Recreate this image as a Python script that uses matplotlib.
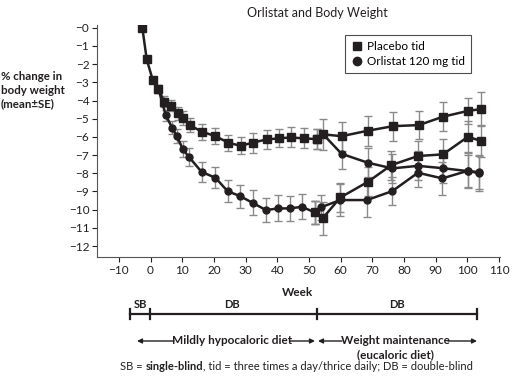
import matplotlib.pyplot as plt
from matplotlib.lines import Line2D
from matplotlib.patches import FancyArrowPatch

plt.rcParams['font.family'] = ['Lato', 'DejaVu Sans']

# year 1 (weeks -3 .. 52)
wk_plac1 = [-2.6, -1.2, 0.7, 2.5, 4.3, 6.4, 8.7, 10.3, 12.3, 16.3, 20.5, 24.6, 28.4, 32.2, 36.6, 40.6, 44.2, 48.3, 52.4]
val_plac1 = [0, -1.74, -2.88, -3.37, -4.07, -4.29, -4.71, -4.94, -5.35, -5.72, -5.96, -6.32, -6.49, -6.32, -6.14, -6.08, -6.03, -6.08, -6.12]
se_plac1 = [0, 0.1, 0.15, 0.2, 0.3, 0.3, 0.35, 0.38, 0.4, 0.45, 0.45, 0.43, 0.46, 0.55, 0.52, 0.5, 0.55, 0.55, 0.55]

wk_orl1 = [2.5, 4.8, 6.8, 8.3, 10.2, 12.1, 16.1, 20.5, 24.3, 28.2, 32.2, 36.4, 40.3, 44.0, 47.8, 51.8]
val_orl1 = [-3.37, -4.8, -5.5, -5.96, -6.68, -7.1, -7.92, -8.25, -8.98, -9.25, -9.62, -10.02, -9.93, -9.93, -9.84, -10.15]
se_orl1 = [0.2, 0.3, 0.35, 0.4, 0.45, 0.5, 0.55, 0.58, 0.6, 0.63, 0.69, 0.64, 0.71, 0.67, 0.69, 0.62]

# year 2 (re-randomised at week 52)
wk_pp = [52.4, 54.5, 60.3, 68.6, 76.5, 84.7, 92.3, 100.2, 104.4]
val_pp = [-6.12, -5.86, -5.96, -5.66, -5.41, -5.35, -4.89, -4.57, -4.47]
se_pp = [0.55, 0.85, 0.8, 0.82, 0.8, 0.75, 0.8, 0.72, 0.92]

wk_po = [54.5, 60.3, 68.6, 76.3, 84.4, 92.3, 100.2, 103.8]
val_po = [-5.86, -6.93, -7.42, -7.73, -7.59, -7.72, -7.88, -7.94]
se_po = [0, 0.82, 0.8, 0.8, 0.8, 0.8, 0.9, 0.95]

wk_op = [51.8, 54.3, 59.9, 68.6, 76.0, 84.4, 92.3, 100.2, 104.4]
val_op = [-10.15, -10.48, -9.33, -8.47, -7.55, -7.05, -6.96, -5.99, -6.23]
se_op = [0.62, 0.92, 0.8, 0.8, 0.8, 0.85, 0.85, 0.85, 0.9]

wk_oo = [51.8, 53.9, 59.9, 68.3, 76.3, 84.4, 92.1, 100.2, 103.8]
val_oo = [-10.15, -9.86, -9.47, -9.47, -8.98, -7.97, -8.28, -7.86, -8.01]
se_oo = [0.62, 0.69, 0.9, 0.95, 0.78, 0.8, 0.9, 0.95, 0.96]

y_ticks = list(range(0, -13, -1))
x_ticks = list(range(-10, 111, 10))

ink = '#231f20'
bar_col = '#8a8a8a'

fig = plt.figure(figsize=(5.12, 3.8), dpi=100)
ax = fig.add_axes([97/512, 1 - 257/380, 403/512, 232/380])


def series(w, v, se, marker, ms):
    ax.errorbar(w, v, yerr=se, fmt='none', ecolor=bar_col, elinewidth=1.0,
                capsize=2.6, capthick=1.0, zorder=1)
    ax.plot(w, v, color=ink, lw=1.8, marker=marker, ms=ms, mfc=ink, mec=ink, zorder=3)


series(wk_orl1, val_orl1, se_orl1, 'o', 5)
series(wk_oo, val_oo, se_oo, 'o', 5)
series(wk_po, val_po, se_po, 'o', 5)
series(wk_op, val_op, se_op, 's', 6.3)
series(wk_plac1, val_plac1, se_plac1, 's', 6.3)
series(wk_pp, val_pp, se_pp, 's', 6.3)

ax.set_xlim(-16.9, 110.3)
ax.set_ylim(-12.6, 0.15)
ax.set_yticks(y_ticks)
ax.set_yticklabels(['\u2212' + str(abs(t)) for t in y_ticks])
ax.set_xticks(x_ticks)
ax.set_xticklabels([('\u2212' + str(abs(t))) if t < 0 else str(t) for t in x_ticks])
ax.tick_params(direction='out', length=3.5, width=0.8, labelsize=8.5, colors=ink, pad=2)
for s in ['top', 'right']:
    ax.spines[s].set_visible(False)
for s in ['left', 'bottom']:
    ax.spines[s].set_color('#555555')
    ax.spines[s].set_linewidth(0.8)

handles = [Line2D([], [], ls='none', marker='s', ms=6, color=ink),
           Line2D([], [], ls='none', marker='o', ms=6, color=ink)]
leg = ax.legend(handles, ['Placebo tid', 'Orlistat 120 mg tid'], loc='upper left',
                bbox_to_anchor=(0.615, 0.957), borderaxespad=0, fontsize=8.5,
                frameon=True, fancybox=False, edgecolor=ink, handlelength=1.0,
                handletextpad=0.4, borderpad=0.5, labelspacing=0.35)
leg.get_frame().set_linewidth(0.8)

fig.text(317/512, 1 - 13/380, 'Orlistat and Body Weight', ha='center', va='center',
         fontsize=9, color=ink)
fig.text(1/512, 1 - 90/380, '% change in\nbody weight\n(mean\u00b1SE)', ha='left', va='center',
         fontsize=8.3, fontweight='bold', color=ink, linespacing=1.25)

fig.text(298/512, 1 - 293/380, 'Week', ha='center', va='center', fontsize=8.5,
         fontweight='bold', color=ink)

# study-phase timeline under the axis
tr = fig.transFigure
yb = 1 - 314/380
edges = [130, 150, 317, 477]
fig.add_artist(Line2D([edges[0]/512, edges[-1]/512], [yb, yb], color=ink, lw=1.6, transform=tr))
for e in edges:
    fig.add_artist(Line2D([e/512, e/512], [yb - 5/380, yb + 5/380], color=ink, lw=1.6, transform=tr))
fig.text(140/512, 1 - 305/380, 'SB', ha='center', va='center', fontsize=8, fontweight='bold', color=ink)
fig.text(232/512, 1 - 305/380, 'DB', ha='center', va='center', fontsize=8, fontweight='bold', color=ink)
fig.text(397/512, 1 - 305/380, 'DB', ha='center', va='center', fontsize=8, fontweight='bold', color=ink)

ya = 1 - 341/380
arrow = dict(arrowstyle='-|>', color=ink, lw=1.0, mutation_scale=7, shrinkA=0, shrinkB=0)
fig.text(232/512, ya, 'Mildly hypocaloric diet', ha='center', va='center',
         fontsize=8.5, fontweight='bold', color=ink)
fig.text(395/512, ya, 'Weight maintenance', ha='center', va='center',
         fontsize=8.5, fontweight='bold', color=ink)
fig.text(395/512, 1 - 355/380, '(eucaloric diet)', ha='center', va='center',
         fontsize=8.5, fontweight='bold', color=ink)
for x0, x1 in [(174, 137), (290, 315), (342, 318), (448, 477)]:
    fig.add_artist(FancyArrowPatch((x0/512, ya), (x1/512, ya), transform=tr, **arrow))

yf = 1 - 370/380
t1 = fig.text(120/512, yf, 'SB = ', ha='left', va='baseline', fontsize=8, color=ink)
t2 = ax.annotate('single-blind', xy=(1, 0), xycoords=t1, va='bottom', ha='left',
                 fontsize=8, fontweight='bold', color=ink, annotation_clip=False)
t3 = ax.annotate(', tid = three times a day/thrice daily; DB = double-blind', xy=(1, 0),
                 xycoords=t2, va='bottom', ha='left', fontsize=8, color=ink,
                 annotation_clip=False)

fig.savefig('out.png', dpi=100)
